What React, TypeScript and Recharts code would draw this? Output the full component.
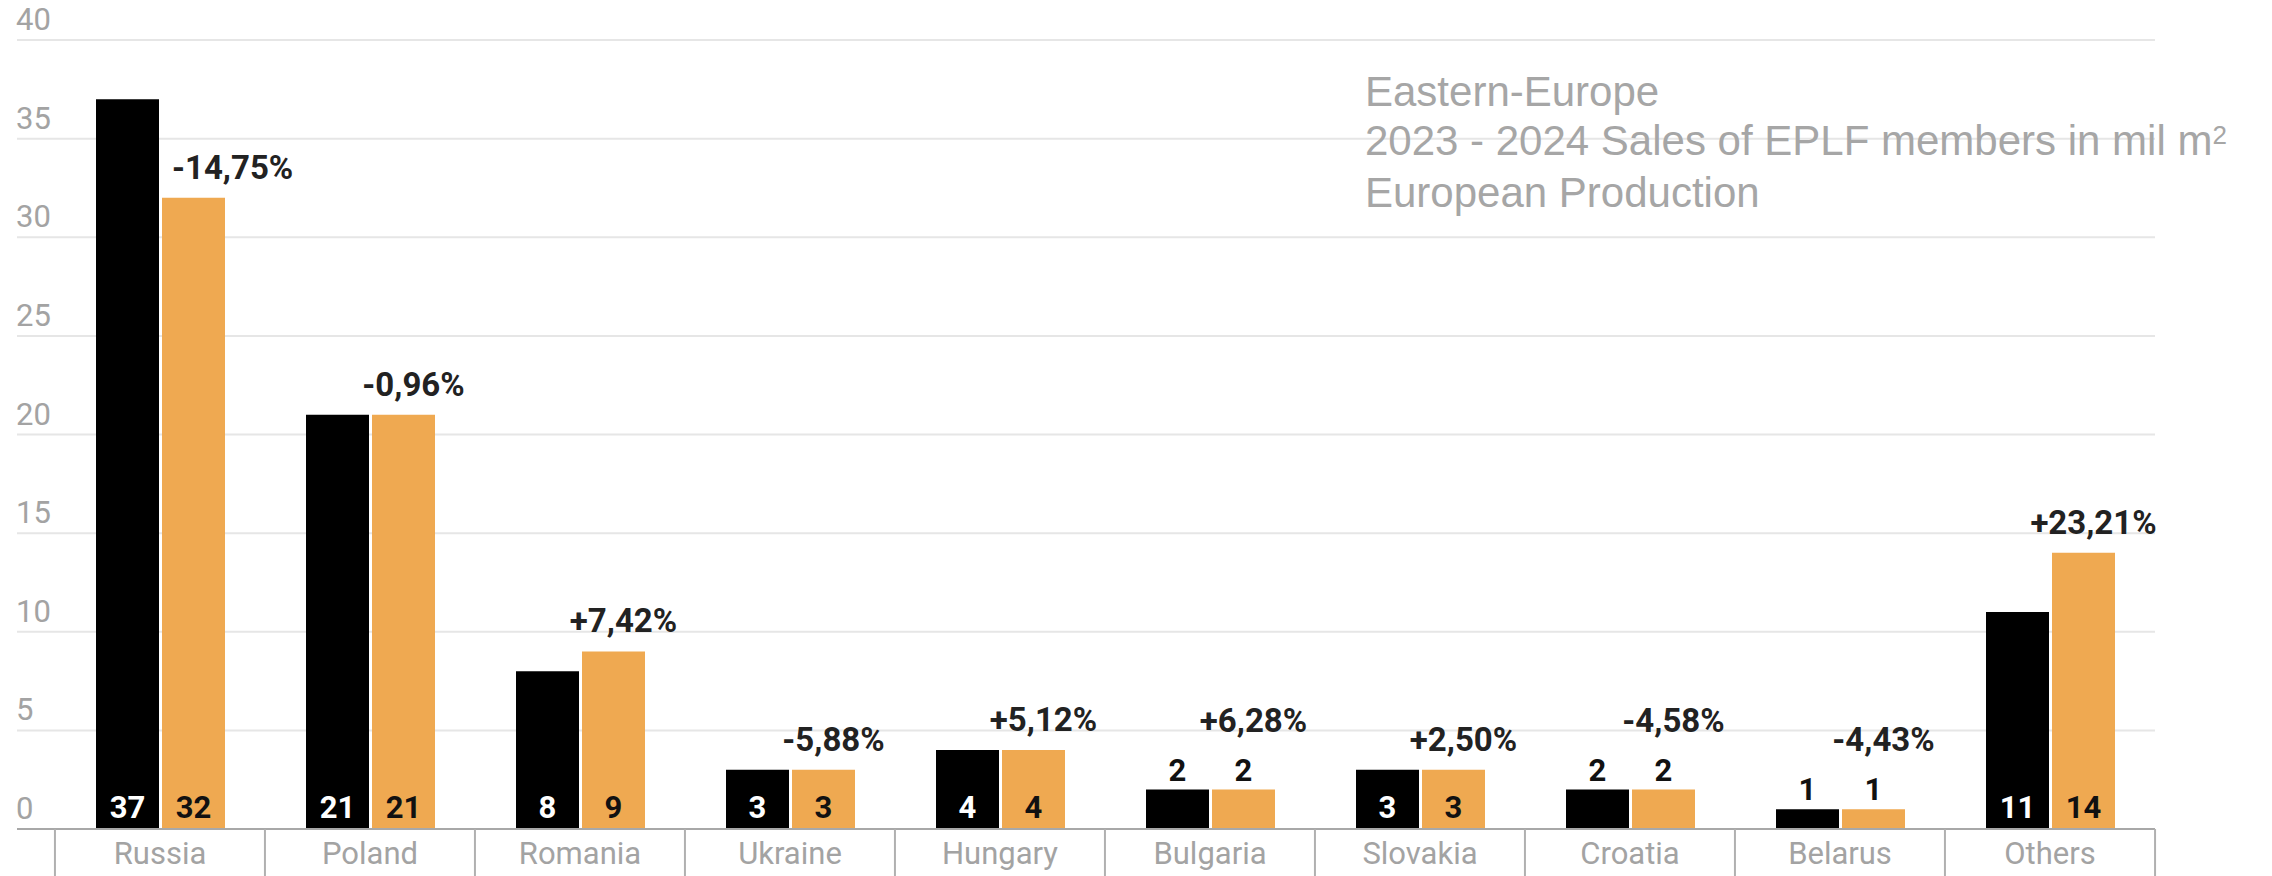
import React from 'react';
import { BarChart, Bar, XAxis, YAxis, CartesianGrid, LabelList } from 'recharts';

// sales of EPLF members, mil m2
const countries = ['Russia', 'Poland', 'Romania', 'Ukraine', 'Hungary', 'Bulgaria', 'Slovakia', 'Croatia', 'Belarus', 'Others'];
const sales2023 = [37, 21, 8, 3, 4, 2, 3, 2, 1, 11];
const sales2024 = [32, 21, 9, 3, 4, 2, 3, 2, 1, 14];
const changePct = [-14.75, -0.96, 7.42, -5.88, 5.12, 6.28, 2.5, -4.58, -4.43, 23.21];
const yTicks = [0, 5, 10, 15, 20, 25, 30, 35, 40];
const titleLines = ['Eastern-Europe', '2023 - 2024 Sales of EPLF members in mil m', 'European Production'];

const W = 2272;
const H = 876;
const MARGIN = { top: 40, right: 117, bottom: 0, left: 16 };
const PAD_LEFT = 38;
const X_AXIS_H = 47;
const BAND = (W - MARGIN.left - MARGIN.right - PAD_LEFT) / countries.length;
const FONT = 'Roboto, "Noto Sans", sans-serif';
const GREY = '#A3A3A3';
const ORANGE = '#EFA951';

const data = countries.map((country, i) => ({
  country,
  y2023: sales2023[i],
  y2024: sales2024[i],
  pct: changePct[i],
}));

const fmtPct = (v: number) => `${v > 0 ? '+' : ''}${v.toFixed(2).replace('.', ',')}%`;

const XTick = (props: any) => {
  const { x, y, payload } = props;
  const isLast = payload.value === countries[countries.length - 1];
  return (
    <g>
      <line x1={x - BAND / 2} x2={x - BAND / 2} y1={y} y2={y + X_AXIS_H} stroke="#B0B0B0" strokeWidth={2} />
      {isLast && <line x1={x + BAND / 2} x2={x + BAND / 2} y1={y} y2={y + X_AXIS_H} stroke="#B0B0B0" strokeWidth={2} />}
      <text x={x} y={y + 35} textAnchor="middle" fill={GREY} fontSize={31} fontFamily={FONT}>
        {payload.value}
      </text>
    </g>
  );
};

// y labels sit left-aligned just above their gridline
const YTick = (props: any) => {
  const { y, payload } = props;
  return (
    <text x={MARGIN.left} y={y - 10} textAnchor="start" fill={GREY} fontSize={31} fontFamily={FONT}>
      {payload.value}
    </text>
  );
};

// value inside the bar foot, or on top when the bar is too short
const valueLabel = (insideFill: string) => (props: any) => {
  const { x, y, width, height, value } = props;
  const inside = value >= 3;
  return (
    <text
      x={x + width / 2}
      y={inside ? y + height - 11 : y - 9}
      textAnchor="middle"
      fill={inside ? insideFill : '#111'}
      fontSize={31}
      fontWeight={700}
      fontFamily={FONT}
    >
      {value}
    </text>
  );
};

const pctLabel = (props: any) => {
  const { x, y, width, height, value, index } = props;
  const v = index != null ? sales2024[index] : height / 19.7;
  const prev = index != null ? sales2023[index] : v;
  const gap = v >= 3 ? 19 : 58;
  // push right when the black bar towers over the label
  const clash = prev - v > 2;
  return (
    <text
      x={clash ? x + 10 : x + width / 2 + 10}
      y={y - gap}
      textAnchor={clash ? 'start' : 'middle'}
      fill="#222"
      fontSize={33}
      fontWeight={700}
      fontFamily={FONT}
    >
      {fmtPct(value)}
    </text>
  );
};

export default function App() {
  return (
    <div style={{ position: 'absolute', left: 0, top: 0, width: W, height: H, background: '#fff' }}>
      <BarChart width={W} height={H} data={data} margin={MARGIN} barSize={63} barGap={3}>
        <CartesianGrid horizontal vertical={false} stroke="#E6E6E6" strokeWidth={2} />
        <XAxis
          dataKey="country"
          interval={0}
          height={X_AXIS_H}
          padding={{ left: PAD_LEFT, right: 0 }}
          axisLine={{ stroke: '#A8A8A8', strokeWidth: 2 }}
          tickLine={false}
          tickSize={0}
          tickMargin={0}
          tick={<XTick />}
        />
        <YAxis
          width={1}
          domain={[0, 40]}
          ticks={yTicks}
          interval={0}
          axisLine={false}
          tickLine={false}
          tickSize={0}
          tickMargin={0}
          tick={<YTick />}
        />
        <Bar dataKey="y2023" fill="#000" isAnimationActive={false}>
          <LabelList dataKey="y2023" content={valueLabel('#fff')} />
        </Bar>
        <Bar dataKey="y2024" fill={ORANGE} isAnimationActive={false}>
          <LabelList dataKey="y2024" content={valueLabel('#111')} />
          <LabelList dataKey="pct" content={pctLabel} />
        </Bar>
      </BarChart>
      <div
        style={{
          position: 'absolute',
          left: 1365,
          top: 0,
          fontFamily: '"Liberation Sans", Arial, sans-serif',
          fontSize: 42,
          lineHeight: '42px',
          color: '#A6A6A6',
          whiteSpace: 'nowrap',
        }}
      >
        <div style={{ position: 'absolute', top: 71 }}>{titleLines[0]}</div>
        <div style={{ position: 'absolute', top: 120 }}>
          {titleLines[1]}
          <span style={{ fontSize: 26, position: 'relative', top: -11 }}>2</span>
        </div>
        <div style={{ position: 'absolute', top: 172 }}>{titleLines[2]}</div>
      </div>
    </div>
  );
}
